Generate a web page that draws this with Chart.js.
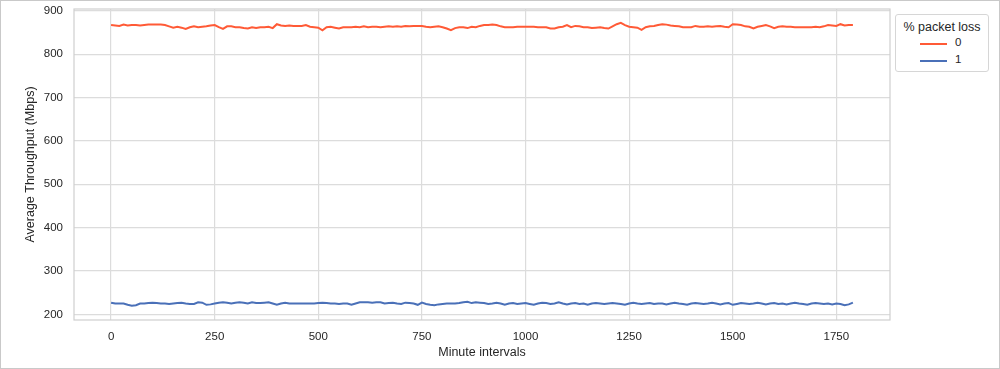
<!DOCTYPE html>
<html>
<head>
<meta charset="utf-8">
<script src="https://cdn.jsdelivr.net/npm/chart.js"></script>
<style>
  html, body { margin: 0; padding: 0; background: #fff; }
  #wrap { position: relative; width: 1000px; height: 369px; font-family: "Liberation Sans", Arial, sans-serif; }
  #frame { position: absolute; left: 0; top: 0; width: 998px; height: 367px; border: 1px solid #c9c9c9; pointer-events: none; }
  #legend { position: absolute; left: 895px; top: 14px; width: 92px; height: 56px; border: 1px solid #d6d6d6; border-radius: 3px; background: #fff; color: #262626; }
  #legend .title { font-size: 12.5px; text-align: center; margin-top: 5px; }
  #legend .row { position: absolute; left: 24px; height: 14px; font-size: 11.5px; }
  #legend .row i { position: absolute; left: 0; top: 6px; width: 27px; height: 2px; }
  #legend .row span { position: absolute; left: 35px; top: -1px; }
</style>
</head>
<body>
<div id="wrap">
  <canvas id="chart" width="1000" height="369"></canvas>
  <div id="frame"></div>
  <div id="legend"></div>
</div>
<script>
// Average throughput per 10-minute interval
const lossLevels = ['0', '1'];
const lineColors = ['#ff5a36', '#4a70b8'];

const throughput0 = [
  867, 866, 865, 868, 866, 867, 867, 866, 867, 868,
  868, 868, 868, 867, 864, 861, 863, 861, 858, 862,
  864, 862, 863, 864, 866, 867, 862, 858, 864, 864,
  862, 862, 860, 859, 862, 860, 862, 862, 863, 860,
  869, 866, 865, 866, 865, 865, 865, 867, 863, 862,
  861, 855, 862, 863, 861, 859, 862, 862, 862, 863,
  862, 864, 862, 863, 863, 862, 863, 864, 863, 864,
  863, 865, 864, 865, 865, 865, 863, 862, 863, 864,
  862, 859, 855, 860, 862, 862, 860, 863, 862, 865,
  867, 867, 868, 867, 864, 862, 862, 862, 863, 863,
  863, 863, 863, 862, 862, 862, 859, 859, 862, 863,
  867, 862, 865, 864, 862, 862, 860, 861, 862, 860,
  859, 864, 869, 872, 867, 863, 862, 861, 856, 862,
  864, 865, 867, 869, 868, 866, 865, 864, 862, 862,
  862, 865, 863, 863, 864, 863, 864, 865, 863, 862,
  869, 868, 867, 864, 863, 859, 863, 865, 867, 864,
  860, 863, 864, 863, 863, 862, 862, 862, 862, 862,
  863, 862, 864, 867, 866, 865, 869, 866, 867, 867
];

const throughput1 = [
  227, 225, 225, 225, 222, 220, 221, 225, 225, 226,
  227, 226, 225, 225, 224, 225, 226, 227, 225, 224,
  224, 228, 227, 222, 223, 225, 227, 228, 227, 225,
  227, 228, 227, 225, 228, 226, 226, 227, 228, 225,
  222, 225, 227, 225, 225, 225, 225, 225, 225, 225,
  226, 227, 226, 225, 225, 224, 225, 225, 222, 225,
  228, 228, 228, 227, 228, 228, 225, 226, 227, 225,
  224, 227, 226, 225, 222, 227, 224, 222, 221, 223,
  224, 225, 225, 225, 226, 228, 229, 226, 228, 227,
  226, 224, 225, 227, 225, 222, 225, 226, 224, 225,
  226, 224, 222, 225, 227, 226, 224, 225, 228, 225,
  223, 225, 226, 224, 225, 222, 225, 226, 225, 224,
  225, 226, 225, 224, 222, 225, 227, 225, 224, 225,
  226, 224, 225, 225, 223, 225, 227, 225, 224, 222,
  225, 226, 225, 224, 225, 227, 225, 223, 225, 226,
  222, 224, 226, 225, 224, 225, 227, 225, 223, 225,
  226, 224, 225, 223, 225, 227, 225, 224, 222, 225,
  226, 225, 224, 225, 223, 225, 224, 221, 223, 227
];

// minute interval index of every sample (one every 10 minutes)
const minutes = throughput0.map((_, i) => i * 10);

const xTicks = [0, 250, 500, 750, 1000, 1250, 1500, 1750];
const yTicks = [200, 300, 400, 500, 600, 700, 800, 900];

const seriesValues = [throughput0, throughput1];

const tickFont = { family: '"Liberation Sans", Arial, sans-serif', size: 11.5 };
const labelFont = { family: '"Liberation Sans", Arial, sans-serif', size: 12.5 };

// legend box at the right, matplotlib style
const legendEl = document.getElementById('legend');
legendEl.innerHTML = '<div class="title">% packet loss</div>';
lossLevels.forEach((lvl, i) => {
  const row = document.createElement('div');
  row.className = 'row';
  row.style.top = (22 + i * 17) + 'px';
  row.innerHTML = '<i style="background:' + lineColors[i] + '"></i><span>' + lvl + '</span>';
  legendEl.appendChild(row);
});

// frame around the plot area (seaborn spines)
const spines = {
  id: 'spines',
  afterDraw(chart) {
    const { ctx, chartArea: a } = chart;
    ctx.save();
    ctx.strokeStyle = '#cfcfcf';
    ctx.lineWidth = 1.2;
    ctx.strokeRect(a.left, a.top, a.right - a.left, a.bottom - a.top);
    ctx.restore();
  }
};

new Chart(document.getElementById('chart'), {
  type: 'line',
  data: {
    datasets: lossLevels.map((lvl, i) => ({
      label: lvl,
      data: minutes.map((m, j) => ({ x: m, y: seriesValues[i][j] })),
      borderColor: lineColors[i],
      backgroundColor: lineColors[i],
      borderWidth: 2,
      pointRadius: 0,
      tension: 0
    }))
  },
  options: {
    responsive: false,
    animation: false,
    layout: { padding: { top: 9, right: 110, left: 0, bottom: 0 } },
    plugins: {
      legend: { display: false },
      tooltip: { enabled: false }
    },
    scales: {
      x: {
        type: 'linear',
        min: -89.5,
        max: 1879.5,
        afterBuildTicks: s => { s.ticks = xTicks.map(v => ({ value: v })); },
        afterFit: s => { s.height = 49; s.paddingLeft = 0; s.paddingRight = 0; },
        grid: { color: '#dcdcdc', lineWidth: 1.2, drawTicks: false },
        border: { display: false },
        ticks: { font: tickFont, color: '#262626', padding: 10, maxRotation: 0, callback: v => String(v) },
        title: { display: true, text: 'Minute intervals', font: labelFont, color: '#262626', padding: { top: 0, bottom: 9 } }
      },
      y: {
        min: 187,
        max: 904,
        afterBuildTicks: s => { s.ticks = yTicks.map(v => ({ value: v })); },
        afterFit: s => { s.width = 74; s.paddingTop = 0; s.paddingBottom = 0; },
        grid: { color: '#dcdcdc', lineWidth: 1.2, drawTicks: false },
        border: { display: false },
        ticks: { font: tickFont, color: '#262626', padding: 11, callback: v => String(v) },
        title: { display: true, text: 'Average Throughput (Mbps)', font: labelFont, color: '#262626', padding: { top: 23, bottom: 0 } }
      }
    }
  },
  plugins: [spines]
});
</script>
</body>
</html>
